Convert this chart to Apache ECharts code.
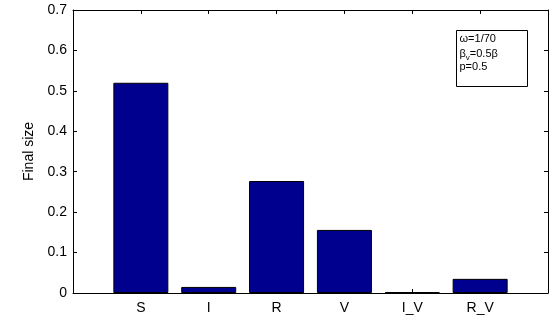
<!DOCTYPE html>
<html>
<head>
<meta charset="utf-8">
<script src="https://cdn.jsdelivr.net/npm/echarts@6/dist/echarts.min.js"></script>
<style>html,body{margin:0;padding:0;background:#fff}#c{width:557px;height:320px}</style>
</head>
<body>
<div id="c"></div>
<script>
var categories = ['S', 'I', 'R', 'V', 'I_V', 'R_V'];
var finalSize = [0.52, 0.015, 0.277, 0.156, 0.002, 0.035];
var yTicks = [0, 0.1, 0.2, 0.3, 0.4, 0.5, 0.6, 0.7];

var font = 'Liberation Sans, Arial, Helvetica, sans-serif';
var chart = echarts.init(document.getElementById('c'), null, {renderer: 'canvas'});
var barData = finalSize.map(function (v, i) { return [i + 1, v]; });

var axisLineStyle = {color: '#000', width: 1};
chart.setOption({
  animation: false,
  grid: {left: 73, right: 9, top: 10, bottom: 27, containLabel: false},
  xAxis: [{
    type: 'value', min: 0, max: 7, interval: 1, position: 'bottom',
    axisLine: {show: true, onZero: false, lineStyle: axisLineStyle},
    axisTick: {show: true, inside: true, length: 4, lineStyle: {color: '#000'}},
    axisLabel: {show: true, margin: 8, color: '#000', fontSize: 14, fontFamily: font,
      formatter: function (v) { return categories[v - 1] || ''; }},
    splitLine: {show: false}
  }, {
    type: 'value', min: 0, max: 7, interval: 1, position: 'top',
    axisLine: {show: true, onZero: false, lineStyle: axisLineStyle},
    axisTick: {show: true, inside: true, length: 4, lineStyle: {color: '#000'}},
    axisLabel: {show: false},
    splitLine: {show: false}
  }],
  yAxis: [{
    type: 'value', min: 0, max: 0.7, interval: 0.1, position: 'left',
    name: 'Final size', nameLocation: 'middle', nameGap: 36, nameRotate: 90,
    nameTextStyle: {color: '#000', fontSize: 14, fontFamily: font},
    axisLine: {show: true, onZero: false, lineStyle: axisLineStyle},
    axisTick: {show: true, inside: true, length: 4, lineStyle: {color: '#000'}},
    axisLabel: {color: '#000', fontSize: 14, fontFamily: font, margin: 6,
      formatter: function (v) { var t = yTicks.find(function (y) { return Math.abs(y - v) < 1e-9; }); return String(t !== undefined ? t : v); }},
    splitLine: {show: false}
  }, {
    type: 'value', min: 0, max: 0.7, interval: 0.1, position: 'right',
    axisLine: {show: true, onZero: false, lineStyle: axisLineStyle},
    axisTick: {show: true, inside: true, length: 4, lineStyle: {color: '#000'}},
    axisLabel: {show: false},
    splitLine: {show: false}
  }],
  series: [{
    type: 'bar', xAxisIndex: 0, yAxisIndex: 0,
    data: barData, barWidth: 55,
    itemStyle: {color: '#00008F', borderColor: '#000', borderWidth: 1}
  }],
  graphic: [{
    type: 'group', left: 456, top: 30,
    children: [
      {type: 'rect', shape: {x: 0, y: 0, width: 71, height: 56}, style: {fill: '#fff', stroke: '#000', lineWidth: 1}},
      {type: 'text', x: 3, y: 3, style: {text: 'ω=1/70', font: '11px ' + font, fill: '#000'}},
      {type: 'text', x: 3, y: 15, style: {
        text: '{a|β}{s|v}{a|=0.5β}',
        rich: {a: {fontSize: 11, fontFamily: font, color: '#000'},
               s: {fontSize: 8, fontFamily: font, color: '#000', padding: [8, 0, 0, 0]}}
      }},
      {type: 'text', x: 3, y: 31, style: {text: 'p=0.5', font: '11px ' + font, fill: '#000'}}
    ]
  }]
});
</script>
</body>
</html>
